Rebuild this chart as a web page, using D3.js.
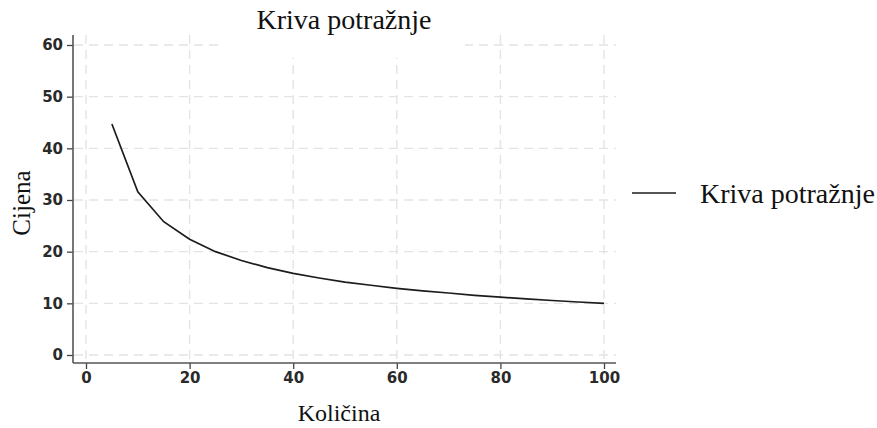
<!DOCTYPE html>
<html><head><meta charset="utf-8">
<script src="https://cdn.jsdelivr.net/npm/d3@7"></script>
<style>body{margin:0;background:#fff}svg{display:block}</style>
</head><body>
<svg id="c" width="877" height="428"></svg>
<script>
const quantity = [5,10,15,20,25,30,35,40,45,50,55,60,65,70,75,80,85,90,95,100];
const price = [44.7,31.6,25.8,22.4,20.0,18.3,16.9,15.8,14.9,14.1,13.5,12.9,12.4,12.0,11.55,11.2,10.85,10.55,10.26,10.0];
const xTicks = [0,20,40,60,80,100];
const yTicks = [0,10,20,30,40,50,60];
const titleText = "Kriva potražnje";
const xLabel = "Količina";
const yLabel = "Cijena";
const legendLabel = "Kriva potražnje";

const svg = d3.select("#c");
const x = d3.scaleLinear().domain([0,100]).range([86,604]);
const y = d3.scaleLinear().domain([0,60]).range([355,45]);
const axX = 73, axY = 363, plotRight = 616, plotTop = 35;
const gridCol = "#e4e4e4";

// grid
svg.append("g").selectAll("line").data(yTicks).join("line")
  .attr("x1", axX+1).attr("x2", plotRight).attr("y1", d=>y(d)).attr("y2", d=>y(d))
  .attr("stroke", gridCol).attr("stroke-width", 1.4).attr("stroke-dasharray", "9,6");
svg.append("g").selectAll("line").data(xTicks).join("line")
  .attr("y1", plotTop).attr("y2", axY-1).attr("x1", d=>x(d)).attr("x2", d=>x(d))
  .attr("stroke", gridCol).attr("stroke-width", 1.4).attr("stroke-dasharray", "9,6");

// title background box covering part of grid
svg.append("rect").attr("x", 220).attr("y", 0).attr("width", 245).attr("height", 58).attr("fill", "#fff");
svg.append("text").attr("x", 344).attr("y", 29).attr("text-anchor", "middle")
  .attr("font-family", "Liberation Serif, Times New Roman, serif").attr("font-size", 28)
  .attr("fill", "#111").text(titleText);

// axes
const tickFont = "DejaVu Sans, sans-serif";
const gy = svg.append("g").attr("transform", `translate(${axX},0)`)
  .call(d3.axisLeft(y).tickValues(yTicks).tickSize(6).tickSizeOuter(0).tickPadding(4));
gy.select(".domain").remove();
const gx = svg.append("g").attr("transform", `translate(0,${axY})`)
  .call(d3.axisBottom(x).tickValues(xTicks).tickSize(6).tickSizeOuter(0).tickPadding(3));
gx.select(".domain").remove();
[gx, gy].forEach(g => {
  g.selectAll(".tick line").attr("stroke", "#444").attr("stroke-width", 1.3);
  g.selectAll(".tick text").attr("font-family", tickFont).attr("font-size", 15)
    .attr("font-weight", "bold").attr("fill", "#2a2a2a");
});
svg.append("line").attr("x1", axX).attr("x2", axX).attr("y1", plotTop).attr("y2", axY)
  .attr("stroke", "#555").attr("stroke-width", 1.6);
svg.append("line").attr("x1", axX).attr("x2", plotRight).attr("y1", axY).attr("y2", axY)
  .attr("stroke", "#555").attr("stroke-width", 1.6);

// curve
const data = quantity.map((q,i)=>({q, p: price[i]}));
svg.append("path").datum(data)
  .attr("d", d3.line().x(d=>x(d.q)).y(d=>y(d.p)))
  .attr("fill", "none").attr("stroke", "#1c1c1c").attr("stroke-width", 1.7);

// axis titles
svg.append("text").attr("x", 339).attr("y", 421).attr("text-anchor", "middle")
  .attr("font-family", "Liberation Serif, Times New Roman, serif").attr("font-size", 24)
  .attr("fill", "#111").text(xLabel);
svg.append("text").attr("transform", "translate(30,203) rotate(-90)").attr("text-anchor", "middle")
  .attr("font-family", "Liberation Serif, Times New Roman, serif").attr("font-size", 25)
  .attr("fill", "#111").text(yLabel);

// legend
svg.append("line").attr("x1", 632).attr("x2", 676).attr("y1", 193).attr("y2", 193)
  .attr("stroke", "#1c1c1c").attr("stroke-width", 1.7);
svg.append("text").attr("x", 700).attr("y", 203)
  .attr("font-family", "Liberation Serif, Times New Roman, serif").attr("font-size", 28)
  .attr("fill", "#111").text(legendLabel);
</script>
</body></html>
